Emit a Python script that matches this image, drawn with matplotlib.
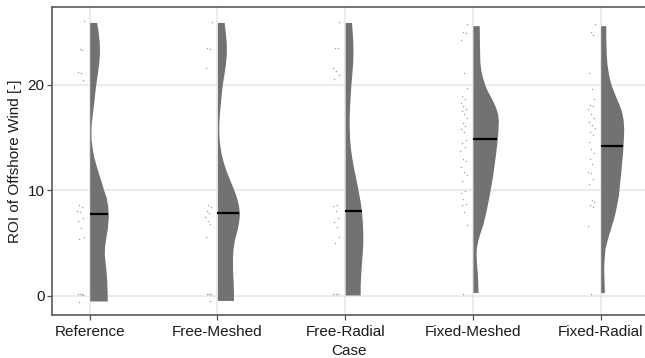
import numpy as np
import matplotlib
matplotlib.use("Agg")
import matplotlib.pyplot as plt

plt.rcParams['font.family'] = ['Liberation Sans', 'DejaVu Sans']

cases = ['Reference', 'Free-Meshed', 'Free-Radial', 'Fixed-Meshed', 'Fixed-Radial']
medians = [7.7, 7.85, 8.0, 14.85, 14.2]

# half-violin density profiles (level, relative density)
ref_y = [-0.5, 0.5, 1.5, 2.5, 3.3, 4.0, 4.8, 5.6, 6.5, 7.5, 8.5, 9.3, 10.0, 10.8, 11.6, 12.4,
         13.2, 14.0, 14.8, 15.6, 16.4, 17.2, 18.0, 19.0, 20.0, 21.0, 22.0, 23.0, 24.0, 25.0, 25.9]
ref_d = [17.6, 17.4, 17.0, 16.2, 15.2, 14.6, 15.0, 16.3, 17.8, 18.6, 18.0, 16.5, 14.0, 11.5, 8.8, 6.2,
         4.0, 2.4, 1.4, 1.2, 1.6, 2.6, 3.6, 4.8, 6.0, 7.6, 9.0, 9.8, 9.6, 8.4, 7.0]

fm_y = [-0.45, 0.5, 1.5, 2.5, 3.5, 4.5, 5.3, 6.2, 7.0, 7.8, 8.6, 9.4, 10.2, 11.0, 11.8, 12.6,
        13.4, 14.2, 15.0, 15.9, 16.8, 17.6, 18.5, 19.3, 20.0, 21.0, 22.0, 23.0, 24.0, 25.0, 25.9]
fm_d = [16.0, 16.0, 15.6, 15.1, 15.0, 15.6, 17.0, 19.5, 21.2, 22.0, 21.0, 18.8, 15.7, 12.2, 8.8, 6.0,
        3.8, 2.4, 1.6, 1.3, 1.6, 2.3, 3.2, 4.0, 4.8, 6.5, 8.0, 8.9, 8.8, 7.8, 6.7]

fr_y = [0.07, 1.0, 2.0, 3.0, 4.0, 5.0, 6.0, 7.0, 8.0, 9.0, 10.0, 11.0, 12.0, 13.0, 14.0,
        15.0, 16.0, 17.0, 18.0, 19.0, 20.0, 21.0, 22.0, 23.0, 24.0, 25.0, 25.9]
fr_d = [15.0, 15.0, 15.5, 16.2, 17.0, 17.6, 17.6, 17.1, 16.3, 14.8, 12.9, 10.8, 8.6, 6.7, 5.2,
        4.3, 4.0, 4.0, 4.4, 5.0, 5.7, 6.6, 7.4, 7.8, 7.6, 7.0, 6.3]

xm_y = [0.3, 1.0, 2.0, 3.0, 3.9, 4.6, 5.3, 6.0, 6.7, 7.5, 8.3, 9.1, 9.9, 10.7, 11.4, 12.3,
        13.3, 14.1, 14.85, 15.7, 16.5, 17.2, 17.9, 18.7, 19.4, 20.0, 20.7, 21.4, 22.2, 23.0, 24.0, 25.6]
xm_d = [5.0, 4.9, 4.4, 3.6, 3.1, 3.5, 5.0, 7.2, 9.7, 11.8, 13.7, 15.4, 17.0, 18.4, 19.7, 21.0,
        22.4, 23.4, 24.3, 25.0, 25.4, 24.8, 22.5, 18.5, 14.5, 11.8, 9.5, 7.8, 6.9, 6.7, 6.5, 6.3]

xr_y = [0.3, 1.5, 2.6, 3.5, 4.5, 5.3, 6.1, 6.9, 7.6, 8.6, 9.5, 10.8, 11.8, 12.7, 13.5, 14.2,
        15.1, 15.9, 16.7, 17.4, 18.1, 18.7, 19.4, 20.0, 20.9, 21.9, 23.0, 24.3, 25.6]
xr_d = [3.7, 3.3, 3.0, 3.4, 4.3, 6.5, 9.0, 11.5, 13.7, 15.9, 17.7, 19.0, 20.2, 21.0, 21.8, 22.3,
        22.8, 23.0, 22.4, 21.0, 18.5, 15.7, 12.8, 10.3, 8.0, 6.3, 5.5, 5.1, 5.0]

# raw observations (dots)
ref_pts = [26.0, 23.4, 23.3, 21.2, 21.1, 20.4, 8.6, 8.4, 8.0, 7.9, 7.4, 7.1, 6.4, 5.6, 5.4, 0.2, 0.2, 0.15, 0.1, -0.57]
fm_pts = [25.9, 23.5, 23.4, 21.6, 8.6, 8.4, 8.0, 7.8, 7.5, 7.1, 6.8, 5.6, 0.2, 0.2, 0.15, -0.46]
fr_pts = [25.9, 23.5, 23.5, 21.6, 21.3, 20.9, 20.5, 8.6, 8.5, 8.0, 7.4, 7.0, 6.5, 5.6, 5.0, 0.2, 0.2, 0.15]
xm_pts = [25.8, 25.0, 24.9, 24.2, 21.1, 19.7, 18.9, 18.6, 18.3, 18.0, 17.7, 17.5, 17.2, 16.8,
          16.4, 16.1, 15.8, 15.5, 14.8, 14.5, 14.1, 13.7, 13.0, 12.8, 12.2, 11.7, 11.4, 10.9,
          9.9, 9.7, 9.2, 8.7, 8.6, 7.9, 6.7, 0.2]
xr_pts = [25.8, 25.0, 24.7, 21.1, 19.6, 18.6, 18.1, 18.0, 17.7, 17.2, 16.8, 16.5, 16.2, 15.9,
          15.5, 15.2, 14.6, 13.9, 13.5, 13.0, 12.5, 11.7, 11.6, 11.1, 10.6, 9.1, 8.9, 8.6,
          8.4, 6.6, 0.2]

profiles = [(ref_y, ref_d), (fm_y, fm_d), (fr_y, fr_d), (xm_y, xm_d), (xr_y, xr_d)]
points = [ref_pts, fm_pts, fr_pts, xm_pts, xr_pts]

W, H = 645, 358
fig = plt.figure(figsize=(W / 100, H / 100), dpi=100)
left, right, top, bottom = 52.3, 646.0, 7.3, 315.0
ax = fig.add_axes([left / W, (H - bottom) / H, (right - left) / W, (bottom - top) / H])

spacing_px = 127.75
dens_scale = 1.0 / spacing_px
grey = '#727272'

for i, case in enumerate(cases):
    x0 = i + 1
    ys, ds = profiles[i]
    ys = np.array(ys)
    ws = np.array(ds) * dens_scale
    ax.fill_betweenx(ys, x0, x0 + ws, color=grey, lw=0, zorder=3)
    wm = np.interp(medians[i], ys, ws)
    ax.plot([x0, x0 + wm], [medians[i], medians[i]], color='black', lw=1.6,
            solid_capstyle='butt', zorder=4)
    pts = np.array(points[i])
    jit = -0.045 - 0.055 * ((np.arange(len(pts)) * 0.618) % 1.0)
    ax.scatter(x0 + jit, pts, s=1.2, color='#a5a5a5', lw=0, zorder=2)

ax.set_xlim(1 - (89.7 - left) / spacing_px, 5 + (right - 600.7) / spacing_px)
ax.set_ylim((295.7 - bottom) / 10.55, (295.7 - top) / 10.55)
ax.set_xticks(range(1, 6))
ax.set_xticklabels(cases)
ax.set_yticks([0, 10, 20])

ax.grid(True, color='#e6e6e6', lw=1.1)
ax.set_axisbelow(True)
for s in ax.spines.values():
    s.set_color('#5a5a5a')
    s.set_linewidth(1.2)
ax.tick_params(axis='both', colors='#4d4d4d', length=3.5, width=0.9, labelsize=11,
               labelcolor='#1a1a1a', pad=2)
ax.tick_params(axis='x', pad=4)

ax.set_xlabel('Case', fontsize=11, color='#1a1a1a', labelpad=3)
ax.set_ylabel('ROI of Offshore Wind [-]', fontsize=11, color='#1a1a1a', labelpad=4)

fig.savefig('out.png', dpi=100)
